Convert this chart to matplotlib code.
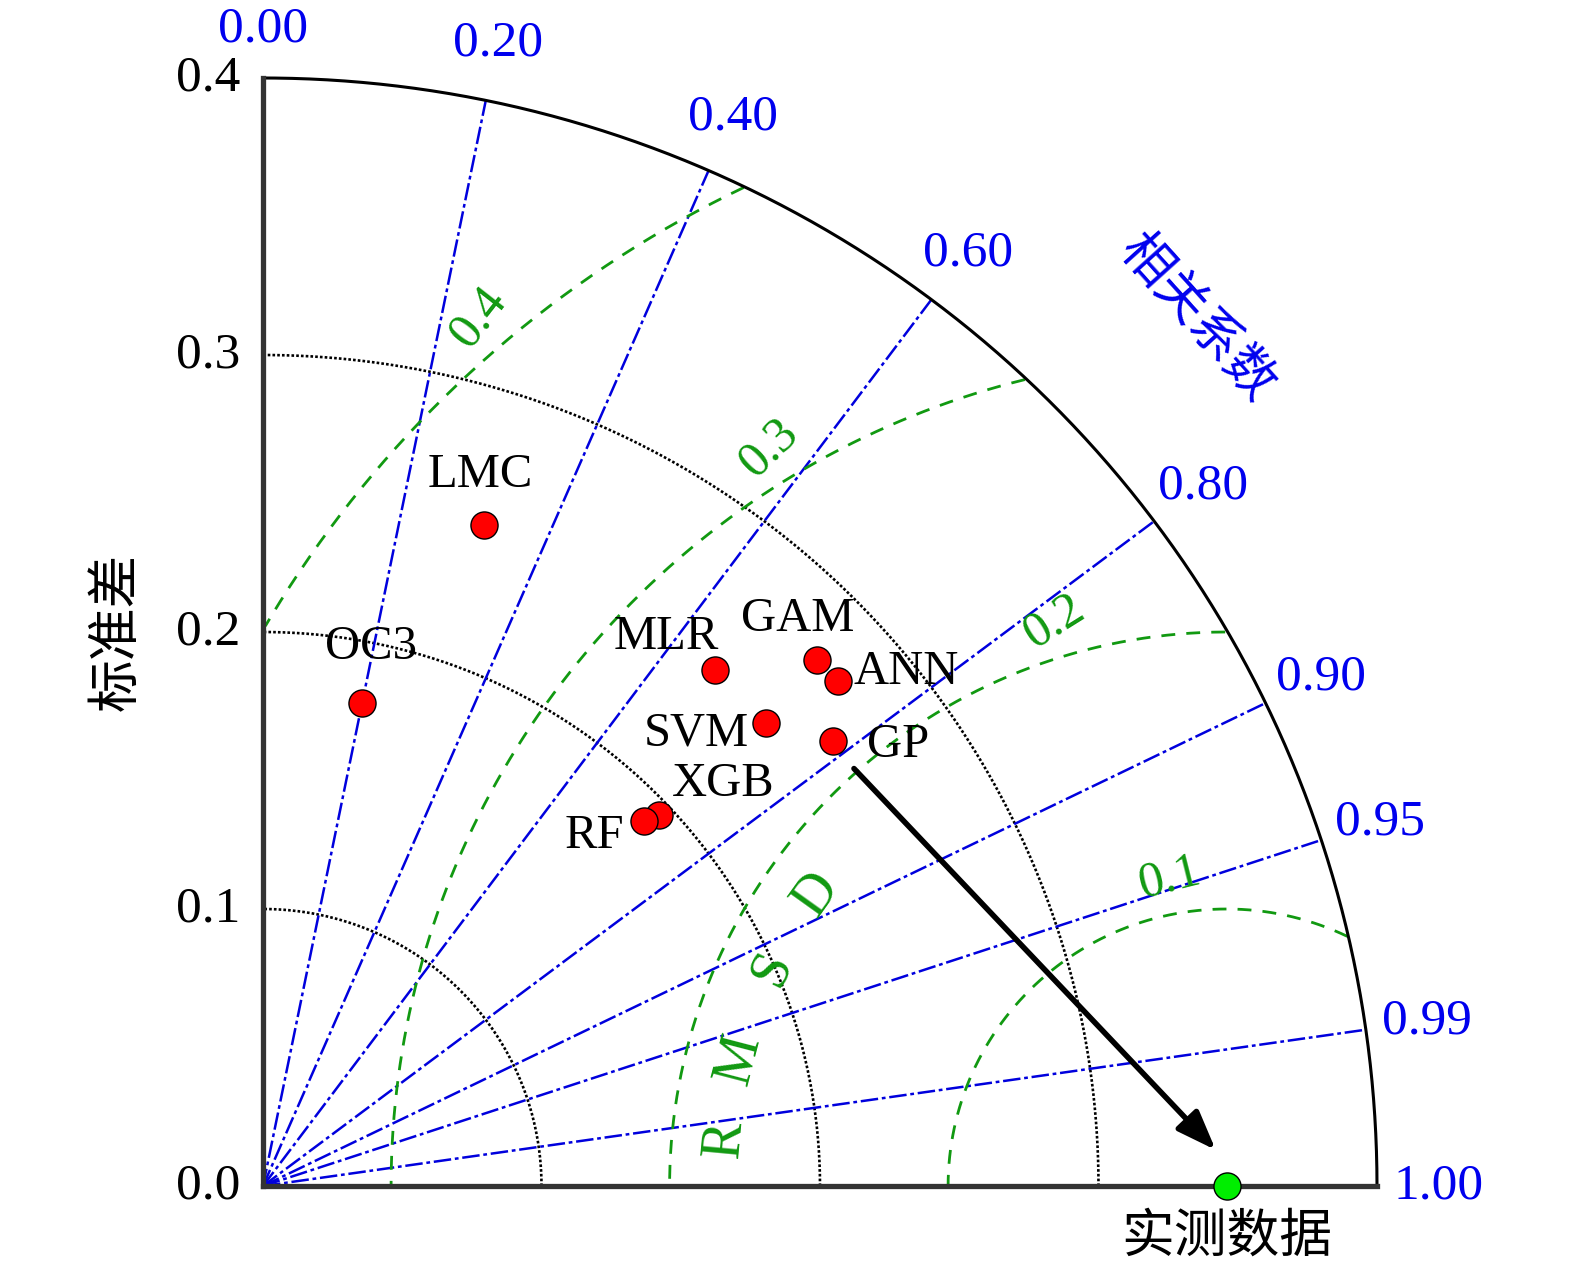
import numpy as np
import matplotlib.pyplot as plt

plt.rcParams['font.family'] = ['Liberation Serif', 'Noto Sans CJK SC']

# model results
models = ['OC3', 'LMC', 'MLR', 'GAM', 'ANN', 'SVM', 'GP', 'XGB', 'RF']
std_dev = [0.178, 0.2515, 0.247, 0.275, 0.2755, 0.246, 0.260, 0.1955, 0.190]
corr = [0.199, 0.316, 0.657, 0.723, 0.750, 0.7335, 0.7865, 0.728, 0.720]
obs_std = 0.346

corr_lines = [0.2, 0.4, 0.6, 0.8, 0.9, 0.95, 0.99]
corr_ticks = [0.0, 0.2, 0.4, 0.6, 0.8, 0.9, 0.95, 0.99, 1.0]
std_ticks = [0.0, 0.1, 0.2, 0.3, 0.4]
rmsd_levels = [0.1, 0.2, 0.3, 0.4]

# label offsets in points (dx, dy)
label_offsets = {'OC3': (7, 40), 'LMC': (-3, 36), 'MLR': (-35, 24), 'GAM': (-14, 29),
                 'ANN': (49, 7), 'SVM': (-50, -8), 'GP': (47, -3), 'XGB': (46, 22),
                 'RF': (-36, -11)}

rmax = 0.4
green = '#119911'
blue = '#0000ee'

fig = plt.figure(figsize=(15.75, 12.69), dpi=100)
ax = fig.add_axes([0, 0, 1, 1])
ax.set_xlim(-263 / 2785, (1575 - 263) / 2785)
ax.set_ylim(-83 / 2770, 1186 / 2770)
ax.axis('off')

t = np.linspace(0, np.pi / 2, 300)

# std dev arcs
for s in std_ticks[1:-1]:
    ax.plot(s * np.cos(t), s * np.sin(t), color='black', ls=(0, (1, 0.8)), lw=1.9, zorder=2)
ax.plot(rmax * np.cos(t), rmax * np.sin(t), color='black', lw=2.2, zorder=3)

# axes
ax.plot([0, 0], [0, rmax], color='#333333', lw=3.8, solid_capstyle='projecting', zorder=4)
ax.plot([0, rmax], [0, 0], color='#333333', lw=3.8, solid_capstyle='projecting', zorder=4)

# correlation lines
for c in corr_lines:
    a = np.arccos(c)
    ax.plot([0, rmax * np.cos(a)], [0, rmax * np.sin(a)], color='#0000dd',
            ls=(0, (7, 1.5, 1.5, 1.5)), lw=1.8, zorder=2)

for c in corr_ticks:
    a = np.arccos(c)
    ax.text(0.422 * np.cos(a), min(0.421 * np.sin(a), 0.4175), f'{c:.2f}', color=blue,
            fontsize=37, ha='center', va='center')

# RMSD arcs
tt = np.linspace(0, np.pi, 600)
for r in rmsd_levels:
    x = obs_std + r * np.cos(tt)
    y = r * np.sin(tt)
    bad = (np.hypot(x, y) > rmax) | (x < 0)
    x[bad] = np.nan
    y[bad] = np.nan
    ax.plot(x, y, color=green, ls=(0, (5, 4)), lw=2.0, zorder=2)

rmsd_lab_ang = [100.5, 106.9, 121.7, 130.6]
rmsd_lab_rot = [14, 32, 44, 52]
for r, a, rot in zip(rmsd_levels, rmsd_lab_ang, rmsd_lab_rot):
    d = r + 0.013
    ax.text(obs_std + d * np.cos(np.radians(a)), d * np.sin(np.radians(a)), f'{r:.1f}',
            color=green, fontsize=36, rotation=rot, ha='center', va='center')

for ch, a in zip('RMSD', [174.7, 165.4, 154.3, 144.4]):
    ax.text(obs_std + 0.181 * np.cos(np.radians(a)), 0.181 * np.sin(np.radians(a)), ch,
            color=green, fontsize=40, rotation=a - 90, ha='center', va='center')

# std tick labels
for s in std_ticks:
    ax.text(-0.0083, s, f'{s:.1f}', fontsize=37, ha='right', va='center')

ax.text(-0.052, 0.2, '标准差', fontsize=38, rotation=90, ha='center', va='center')
ax.text(0.335, 0.313, '相关系数', fontsize=37, rotation=-48, color=blue,
        ha='center', va='center')
ax.text(obs_std, -0.019, '实测数据', fontsize=38, ha='center', va='center')

# arrow
ax.annotate('', xy=(0.3421, 0.0130), xytext=(0.2122, 0.1507),
            arrowprops=dict(arrowstyle='-|>,head_length=2.4,head_width=0.9', lw=4,
                            color='black', shrinkA=0, shrinkB=0), zorder=5)

# points
for name in ['OC3', 'LMC', 'MLR', 'GAM', 'ANN', 'SVM', 'GP', 'XGB', 'RF']:
    i = models.index(name)
    a = np.arccos(corr[i])
    px, py = std_dev[i] * np.cos(a), std_dev[i] * np.sin(a)
    ax.plot(px, py, 'o', ms=19.5, mfc='#ff0000', mec='black', mew=1.0, zorder=6)
    ax.annotate(name, (px, py), xytext=label_offsets[name], textcoords='offset points',
                fontsize=35, ha='center', va='center', zorder=7)

ax.plot(obs_std, 0, 'o', ms=19.5, mfc='#00ee00', mec='black', mew=1.0, zorder=6, clip_on=False)

fig.savefig('out.png', dpi=100)
